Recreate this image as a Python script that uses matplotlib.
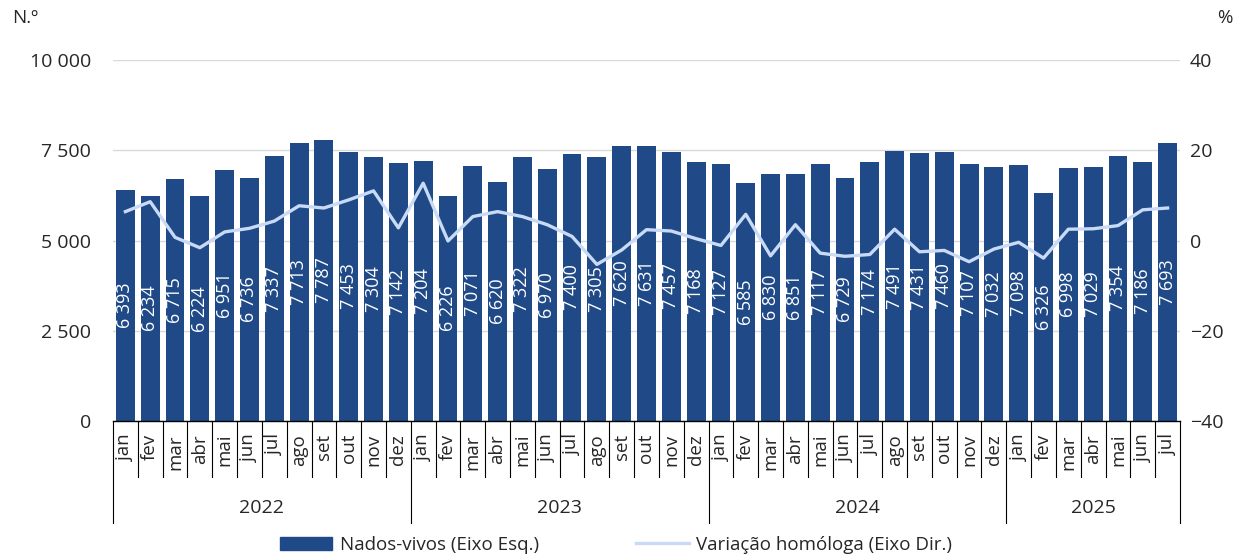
import matplotlib
matplotlib.use('agg')
import matplotlib.pyplot as plt
from matplotlib.patches import Patch
from matplotlib.lines import Line2D
import matplotlib.transforms as mtransforms

import numpy as np

plt.rcParams['font.family'] = ['Open Sans', 'DejaVu Sans']

### data
years = ['2022', '2023', '2024', '2025']
months_per_year = [12, 12, 12, 7]
month_names = ['jan', 'fev', 'mar', 'abr', 'mai', 'jun', 'jul', 'ago', 'set', 'out', 'nov', 'dez']

births = [6393, 6234, 6715, 6224, 6951, 6736, 7337, 7713, 7787, 7453, 7304, 7142,
          7204, 6226, 7071, 6620, 7322, 6970, 7400, 7305, 7620, 7631, 7457, 7168,
          7127, 6585, 6830, 6851, 7117, 6729, 7174, 7491, 7431, 7460, 7107, 7032,
          7098, 6326, 6998, 7029, 7354, 7186, 7693]

yoy = [6.4, 8.6, 0.7, -1.6, 1.9, 2.7, 4.3, 7.7, 7.2, 9.0, 11.0, 2.8,
       12.7, -0.1, 5.3, 6.4, 5.3, 3.5, 0.9, -5.3, -2.1, 2.4, 2.1, 0.4,
       -1.1, 5.8, -3.4, 3.5, -2.8, -3.5, -3.1, 2.5, -2.5, -2.2, -4.7, -1.9,
       -0.4, -3.9, 2.5, 2.6, 3.3, 6.8, 7.2]

bar_color = '#1f4a87'
line_color = '#c9daf6'
text_color = '#262626'

def fmt_thousands(v):
    return f"{v:,.0f}".replace(',', ' ')

fig = plt.figure(figsize=(12.36, 5.58), dpi=100)
ax = fig.add_axes([113/1236, 1-421/558, (1180-113)/1236, (421-60)/558])
ax2 = ax.twinx()

x = np.arange(len(births))
ax.bar(x, births, width=0.76, color=bar_color, zorder=2)
for xi, v in zip(x, births):
    ax.text(xi, v/2, fmt_thousands(v), rotation=90, ha='center', va='center',
            color='white', fontsize=13, zorder=3)

ax2.plot(x, yoy, color=line_color, lw=2.4, solid_joinstyle='round', zorder=4)

ax.set_xlim(-0.5, len(births)-0.5)
ax.set_ylim(0, 10000)
ax.set_yticks([0, 2500, 5000, 7500, 10000])
ax.set_yticklabels([fmt_thousands(t) for t in [0, 2500, 5000, 7500, 10000]])
ax2.set_ylim(-40, 40)
ax2.set_yticks([-40, -20, 0, 20, 40])

ax.grid(axis='y', color='#d9d9d9', lw=1, zorder=0)
ax.set_axisbelow(True)
for a in (ax, ax2):
    for s in ['top', 'left', 'right', 'bottom']:
        a.spines[s].set_visible(False)
ax.axhline(0, color='black', lw=1, zorder=3, clip_on=False)

ax.tick_params(axis='y', length=0, pad=16, labelsize=14, labelcolor=text_color)
ax2.tick_params(axis='y', length=0, pad=7, labelsize=14, labelcolor=text_color)
ax.set_xticks([])

# category axis: months, then years
trans = mtransforms.blended_transform_factory(ax.transData, ax.transAxes)
month_bottom = -(477-421)/361
year_bottom = -(523-421)/361
i = 0
for yr, n in zip(years, months_per_year):
    for m in range(n):
        ax.text(i + m, -13/361, month_names[m], rotation=90, ha='center', va='top',
                fontsize=13.5, color=text_color, transform=trans)
        if m > 0:
            ax.plot([i + m - 0.5]*2, [0, month_bottom], color='black', lw=0.8,
                    transform=trans, clip_on=False)
    ax.plot([i - 0.5]*2, [0, year_bottom], color='black', lw=0.8,
            transform=trans, clip_on=False)
    ax.text(i + (n-1)/2, -87/361, yr, ha='center', va='center', fontsize=14,
            color=text_color, transform=trans)
    i += n
ax.plot([i - 0.5]*2, [0, year_bottom], color='black', lw=0.8,
        transform=trans, clip_on=False)

fig.text(12/1236, 1-18/558, 'N.º', fontsize=13.5, color=text_color, va='center', ha='left')
fig.text(1217/1236, 1-18/558, '%', fontsize=13.5, color=text_color, va='center', ha='left')

handles = [Patch(facecolor=bar_color, edgecolor=bar_color, label='Nados-vivos (Eixo Esq.)'),
           Line2D([0], [0], color=line_color, lw=2.4, label='Variação homóloga (Eixo Dir.)')]
fig.legend(handles=handles, loc='center', bbox_to_anchor=(616/1236, 1-545/558), ncol=2,
           frameon=False, fontsize=13.5, handlelength=2.8, handletextpad=0.4,
           columnspacing=5.2, labelcolor=text_color)

plt.savefig('out.png', format='png', dpi=100)
